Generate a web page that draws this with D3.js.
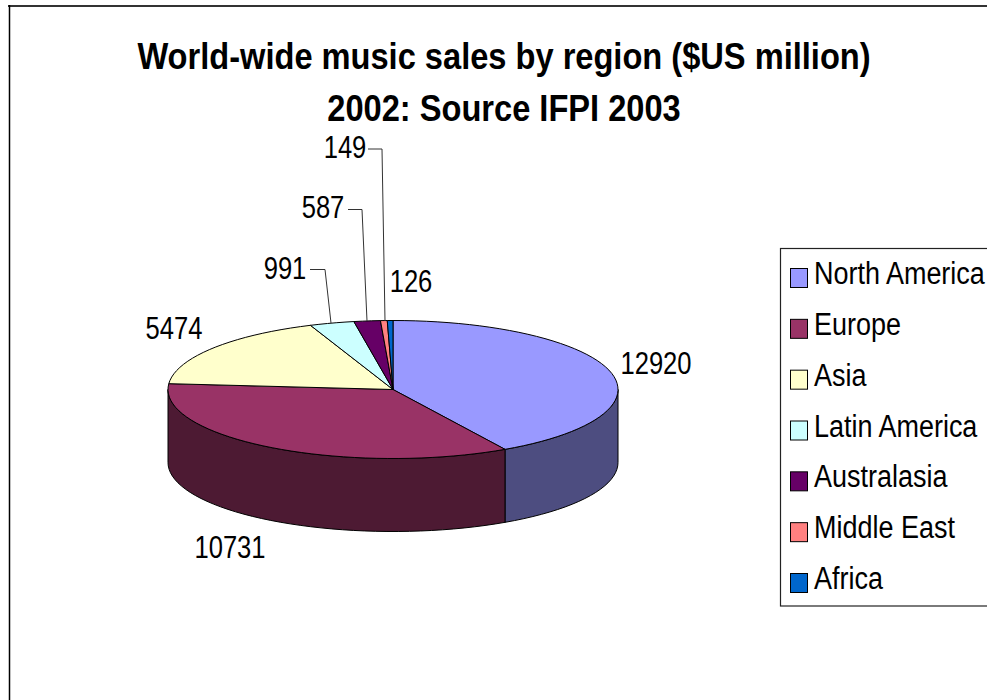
<!DOCTYPE html>
<html>
<head>
<meta charset="utf-8">
<script src="https://cdn.jsdelivr.net/npm/d3@7"></script>
<style>
html, body { margin: 0; padding: 0; background: #fff; overflow: hidden; }
svg { display: block; }
text { font-family: "Liberation Sans", Arial, sans-serif; fill: #000; }
</style>
</head>
<body>
<svg id="chart" width="987" height="700"></svg>
<script>
// Music sales per region, $US million, 2002
const regions = ["North America", "Europe", "Asia", "Latin America", "Australasia", "Middle East", "Africa"];
const sales = [12920, 10731, 5474, 991, 587, 149, 126];
const topColors = ["#9999ff", "#993366", "#ffffcc", "#ccffff", "#660066", "#ff8080", "#0066cc"];
const sideColors = ["#4d4d80", "#4d1a33", "#808066", "#668080", "#330033", "#804040", "#003366"];
const titleLines = ["World-wide music sales by region ($US million)", "2002: Source IFPI 2003"];

const svg = d3.select("#chart");

// Chart frame running off the right and bottom of the page
svg.append("line").attr("x1", 8).attr("x2", 987).attr("y1", 6).attr("y2", 6)
  .attr("stroke", "#333").attr("stroke-width", 2);
svg.append("line").attr("x1", 9.5).attr("x2", 9.5).attr("y1", 5).attr("y2", 700)
  .attr("stroke", "#000").attr("stroke-width", 1.5);

// All text is set narrower than its natural width
const placeText = (sel, x, y, sx) => sel.attr("transform", (d, i) => `translate(${x(d, i)},${y(d, i)}) scale(${sx},1)`);

svg.selectAll("text.title").data(titleLines).join("text")
  .attr("class", "title")
  .attr("text-anchor", "middle")
  .attr("font-size", 37.5)
  .attr("font-weight", "bold")
  .call(placeText, () => 504, (d, i) => 69 + i * 51.5, 0.87)
  .text(d => d);

// Tilted pie geometry
const cx = 393, cy = 389.5, rx = 225, ry = 69, depth = 73;
const arcs = d3.pie().sort(null).startAngle(0).endAngle(2 * Math.PI)(sales);
const px = a => cx + rx * Math.sin(a);
const py = a => cy - ry * Math.cos(a);
const rimAngles = (a0, a1) => {
  const n = Math.max(1, Math.ceil((a1 - a0) / 0.05));
  return d3.range(n + 1).map(i => a0 + (a1 - a0) * i / n);
};
const line = d3.line();

// Outer wall: only the part of the rim facing the viewer (PI/2 to 3PI/2)
arcs.forEach((d, i) => {
  const a0 = Math.max(d.startAngle, Math.PI / 2);
  const a1 = Math.min(d.endAngle, 3 * Math.PI / 2);
  if (a1 <= a0) return;
  const rim = rimAngles(a0, a1);
  const pts = rim.map(a => [px(a), py(a)])
    .concat(rim.slice().reverse().map(a => [px(a), py(a) + depth]));
  svg.append("path")
    .attr("d", line(pts) + "Z")
    .attr("fill", sideColors[i])
    .attr("stroke", "#000").attr("stroke-width", 1).attr("stroke-linejoin", "round");
});

// Top face of every slice
arcs.forEach((d, i) => {
  const pts = [[cx, cy]].concat(rimAngles(d.startAngle, d.endAngle).map(a => [px(a), py(a)]));
  svg.append("path")
    .attr("d", line(pts) + "Z")
    .attr("fill", topColors[i])
    .attr("stroke", "#000").attr("stroke-width", 1).attr("stroke-linejoin", "round");
});

// Value labels, with leader lines for the narrow slices
const labelPos = [
  { x: 656, y: 374 }, { x: 230, y: 558 }, { x: 174, y: 339 },
  { x: 285, y: 279 }, { x: 323, y: 218 }, { x: 345, y: 158 }, { x: 411, y: 292 }
];
svg.selectAll("text.value").data(sales).join("text")
  .attr("class", "value")
  .attr("text-anchor", "middle")
  .attr("font-size", 31)
  .call(placeText, (d, i) => labelPos[i].x, (d, i) => labelPos[i].y, 0.825)
  .text(d => d);

const leaders = [
  { i: 3, pts: [[310, 269.5], [325, 269.5], [331, 323]] },
  { i: 4, pts: [[348, 209.5], [362, 209.5], [367, 321]] },
  { i: 5, pts: [[368, 149], [382, 149], [385, 321]] }
];
svg.selectAll("path.leader").data(leaders).join("path")
  .attr("class", "leader")
  .attr("d", d => line(d.pts))
  .attr("fill", "none").attr("stroke", "#333").attr("stroke-width", 1);

// Legend box and entries
const legend = svg.append("g");
legend.append("rect")
  .attr("x", 780.5).attr("y", 248.5).attr("width", 220).attr("height", 357.5)
  .attr("fill", "#fff").attr("stroke", "#222").attr("stroke-width", 1.2);

const legendY = d3.scalePoint().domain(regions).range([284, 589]);
regions.forEach((name, i) => {
  const y = legendY(name);
  legend.append("rect")
    .attr("x", 790.5).attr("y", y - 15.5).attr("width", 17).attr("height", 19)
    .attr("fill", topColors[i]).attr("stroke", "#000").attr("stroke-width", 1);
  legend.append("text")
    .attr("font-size", 31)
    .attr("transform", `translate(814,${y}) scale(0.87,1)`)
    .text(name);
});
</script>
</body>
</html>
